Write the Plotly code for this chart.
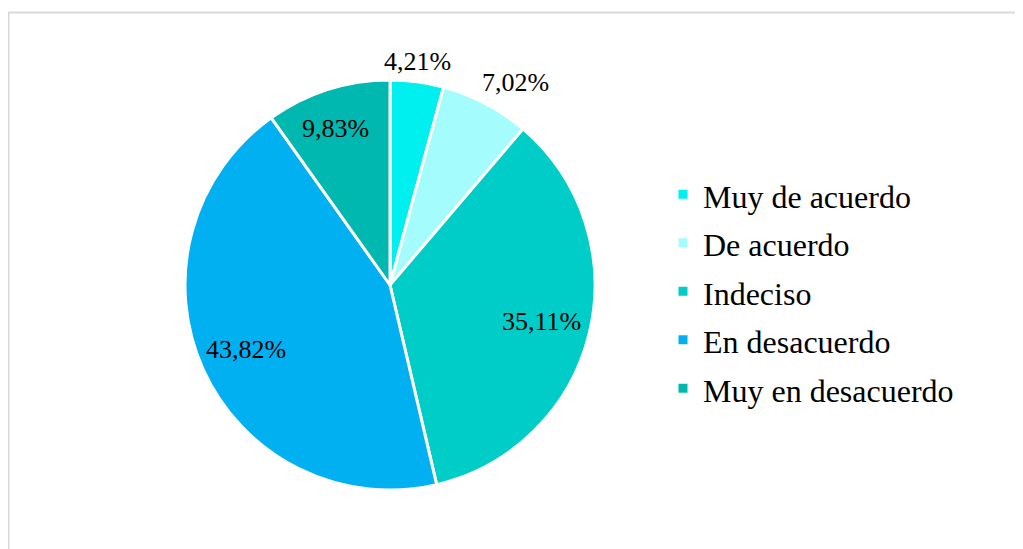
import math
import plotly.graph_objects as go

categories = ["Muy de acuerdo", "De acuerdo", "Indeciso", "En desacuerdo", "Muy en desacuerdo"]
values = [4.21, 7.02, 35.11, 43.82, 9.83]
value_labels = ["4,21%", "7,02%", "35,11%", "43,82%", "9,83%"]
colors = ["#00F0F0", "#A4FCFC", "#00CCC8", "#00B0F0", "#00B8B0"]
label_radius = [1.10, 1.16, 0.76, 0.77, 0.81]   # fraction of pie radius for each value label
label_angle_shift = [-0.5, 4.0, 0.0, 0.0, -1.5]  # degrees, nudge of each value label

W, H = 1023, 549
cx, cy, r = 382, 277, 205  # pie centre / radius in plot pixels

fig = go.Figure(go.Pie(
    labels=[f'<span style="font-size:32px">{c}</span>' for c in categories],
    values=values,
    text=value_labels,
    textinfo="none",
    sort=False,
    direction="clockwise",
    rotation=0,
    marker=dict(colors=colors, line=dict(color="white", width=3)),
    domain=dict(x=[(cx - r) / W, (cx + r) / W], y=[1 - (cy + r) / H, 1 - (cy - r) / H]),
    hoverinfo="label+text",
))

# value labels placed along each slice's mid-angle
total = sum(values)
cum = 0.0
annotations = []
for v, lab, rf, da in zip(values, value_labels, label_radius, label_angle_shift):
    mid = (cum + v / 2) / total * 2 * math.pi + math.radians(da)
    cum += v
    px = cx + rf * r * math.sin(mid)
    py = cy - rf * r * math.cos(mid)
    annotations.append(dict(
        x=px / W, y=1 - py / H, xref="paper", yref="paper",
        text=lab, showarrow=False, xanchor="center", yanchor="middle",
        font=dict(family="Liberation Serif", size=26, color="black"),
    ))

fig.update_layout(
    width=W, height=H,
    margin=dict(l=0, r=0, t=0, b=0),
    paper_bgcolor="white",
    showlegend=True,
    legend=dict(
        x=655 / W, y=1 - 157 / H, xanchor="left", yanchor="top",
        font=dict(family="Liberation Serif", size=35, color="black"),
        itemwidth=30,
        bgcolor="rgba(0,0,0,0)",
    ),
    annotations=annotations,
    shapes=[dict(type="rect", xref="paper", yref="paper",
                 x0=0.5 / W, x1=1.05, y0=-0.05, y1=1 - 4.5 / H,
                 line=dict(color="#D9D9D9", width=2), layer="below")],
)

fig.write_html("out.html")
